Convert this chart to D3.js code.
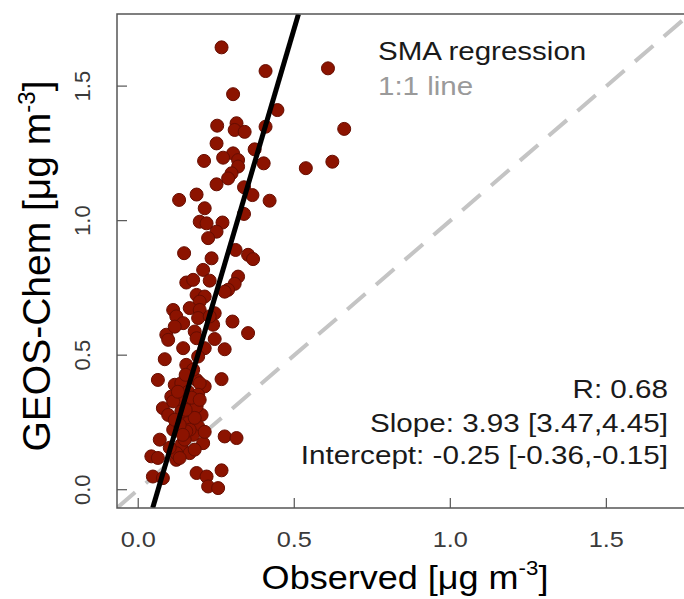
<!DOCTYPE html>
<html>
<head>
<meta charset="utf-8">
<script src="https://cdnjs.cloudflare.com/ajax/libs/d3/7.8.5/d3.min.js"></script>
<style>
  body { margin: 0; background: #fff; }
  text { font-family: "Liberation Sans", Arial, sans-serif; }
</style>
</head>
<body>
<svg class="chart"></svg>
<script>
// observed vs modelled concentrations (ug m-3)
const observed = [
  0.267, 0.408, 0.608, 0.304, 0.446, 0.660, 0.253, 0.315, 0.309, 0.341,
  0.408, 0.251, 0.373, 0.304, 0.272, 0.211, 0.320, 0.320, 0.402, 0.537,
  0.622, 0.299, 0.288, 0.251, 0.339, 0.366, 0.421, 0.131, 0.187, 0.213,
  0.339, 0.197, 0.219, 0.270, 0.251, 0.224, 0.147, 0.235, 0.312, 0.352,
  0.368, 0.208, 0.154, 0.176, 0.229, 0.320, 0.309, 0.288, 0.277, 0.187,
  0.213, 0.197, 0.112, 0.165, 0.197, 0.245, 0.122, 0.144, 0.192, 0.240,
  0.302, 0.352, 0.090, 0.096, 0.181, 0.187, 0.245, 0.144, 0.213, 0.277,
  0.192, 0.085, 0.063, 0.117, 0.138, 0.187, 0.213, 0.267, 0.106, 0.133,
  0.165, 0.079, 0.181, 0.096, 0.144, 0.203, 0.160, 0.112, 0.192, 0.176,
  0.069, 0.208, 0.277, 0.315, 0.138, 0.042, 0.063, 0.122, 0.165, 0.047,
  0.079, 0.187, 0.219, 0.267, 0.224, 0.256, 0.117, 0.229, 0.197, 0.112,
  0.138, 0.187, 0.165, 0.149, 0.122, 0.133, 0.154, 0.176, 0.160, 0.192,
  0.154, 0.133, 0.181, 0.152, 0.171, 0.127, 0.197, 0.152, 0.117, 0.213,
  0.101, 0.181, 0.143
];
const modelled = [
  1.644, 1.556, 1.566, 1.470, 1.411, 1.341, 1.353, 1.362, 1.337, 1.330,
  1.349, 1.287, 1.265, 1.250, 1.234, 1.222, 1.225, 1.201, 1.213, 1.195,
  1.219, 1.176, 1.157, 1.135, 1.124, 1.095, 1.074, 1.077, 1.097, 1.046,
  1.025, 0.996, 0.990, 0.993, 0.959, 0.935, 0.879, 0.860, 0.891, 0.873,
  0.857, 0.817, 0.770, 0.780, 0.777, 0.792, 0.765, 0.743, 0.736, 0.724,
  0.718, 0.699, 0.668, 0.675, 0.668, 0.656, 0.644, 0.619, 0.638, 0.613,
  0.625, 0.582, 0.576, 0.557, 0.588, 0.563, 0.560, 0.526, 0.526, 0.522,
  0.495, 0.485, 0.408, 0.390, 0.396, 0.408, 0.384, 0.411, 0.346, 0.334,
  0.322, 0.303, 0.303, 0.278, 0.272, 0.278, 0.248, 0.223, 0.235, 0.204,
  0.186, 0.173, 0.198, 0.192, 0.167, 0.124, 0.118, 0.111, 0.136, 0.049,
  0.043, 0.062, 0.049, 0.072, 0.012, 0.006, 0.606, 0.644, 0.396, 0.328,
  0.291, 0.309, 0.223, 0.186, 0.136, 0.118, 0.464, 0.446, 0.364, 0.353,
  0.217, 0.241, 0.267, 0.427, 0.342, 0.364, 0.334, 0.297, 0.260, 0.215,
  0.156, 0.149, 0.204
];
const xTicks = [0, 0.5, 1.0, 1.5];
const yTicks = [0, 0.5, 1.0, 1.5];
const smaSlope = 3.93;
const smaIntercept = -0.25;
const statLines = ['R: 0.68', 'Slope: 3.93 [3.47,4.45]', 'Intercept: -0.25 [-0.36,-0.15]'];
const legendLabels = ['SMA regression', '1:1 line'];

const width = 684;
const height = 599;
const svg = d3.select('.chart').attr('width', width).attr('height', height)
  .style('background-color', 'white');

const pLeft = 117, pTop = 14, pBottom = 508, pRight = 690;
const x = d3.scaleLinear().domain([-0.068, 1.768]).range([pLeft, pRight]);
const y = d3.scaleLinear().domain([-0.068, 1.768]).range([pBottom, pTop]);

// helper for (horizontally stretched) text
function label(px, py, str, size, anchor, fill, sx, rot) {
  let tr = `translate(${px},${py})`;
  if (rot) tr += ` rotate(${rot})`;
  tr += ` scale(${sx},1)`;
  return svg.append('text')
    .attr('transform', tr)
    .attr('font-size', size)
    .attr('text-anchor', anchor)
    .attr('fill', fill)
    .text(str);
}

const plot = svg.append('g');
plot.append('clipPath').attr('id', 'clip')
  .append('rect').attr('x', pLeft).attr('y', pTop)
  .attr('width', pRight - pLeft).attr('height', pBottom - pTop);

// 1:1 line
const lineG = plot.append('g').attr('clip-path', 'url(#clip)');
lineG.append('line')
  .attr('x1', x(-0.068)).attr('y1', y(-0.068))
  .attr('x2', x(1.768)).attr('y2', y(1.768))
  .attr('stroke', '#c4c4c4').attr('stroke-width', 4)
  .attr('stroke-dasharray', '24,14');

// points
lineG.selectAll('circle').data(observed).join('circle')
  .attr('cx', d => x(d))
  .attr('cy', (d, i) => y(modelled[i]))
  .attr('r', 6.5)
  .attr('fill', '#8c1300')
  .attr('stroke', '#660d00')
  .attr('stroke-width', 1);

// SMA regression line
const yLo = -0.068, yHi = 1.768;
lineG.append('line')
  .attr('x1', x((yLo - smaIntercept) / smaSlope)).attr('y1', y(yLo))
  .attr('x2', x((yHi - smaIntercept) / smaSlope)).attr('y2', y(yHi))
  .attr('stroke', 'black').attr('stroke-width', 5);

// frame
plot.append('path')
  .attr('d', `M${pRight},${pTop}H${pLeft}V${pBottom}H${pRight}`)
  .attr('fill', 'none').attr('stroke', '#555').attr('stroke-width', 1.5);

// ticks (inward)
plot.selectAll('.xt').data(xTicks).join('line')
  .attr('x1', d => x(d)).attr('x2', d => x(d))
  .attr('y1', pBottom).attr('y2', pBottom - 10)
  .attr('stroke', '#555').attr('stroke-width', 1.2);
plot.selectAll('.yt').data(yTicks).join('line')
  .attr('y1', d => y(d)).attr('y2', d => y(d))
  .attr('x1', pLeft).attr('x2', pLeft + 10)
  .attr('stroke', '#555').attr('stroke-width', 1.2);

xTicks.forEach(d => label(x(d), 547, d3.format('.1f')(d), 22, 'middle', '#3a3a3a', 1.15));
yTicks.forEach(d => label(90, y(d), d3.format('.1f')(d), 22, 'middle', '#3a3a3a', 1, -90));

// axis titles
const xt = label(405, 589, '', 34, 'middle', 'black', 1.06);
xt.append('tspan').text('Observed [μg m');
xt.append('tspan').attr('dy', -14).attr('font-size', 21).text('-3');
xt.append('tspan').attr('dy', 14).text(']');

const yt = label(50, 266, '', 39, 'middle', 'black', 1, -90);
yt.append('tspan').text('GEOS-Chem [μg m');
yt.append('tspan').attr('dy', -15).attr('font-size', 24).text('-3');
yt.append('tspan').attr('dy', 15).text(']');

// legend
label(378, 60, legendLabels[0], 26, 'start', '#1a1a1a', 1.135);
label(378, 95, legendLabels[1], 26, 'start', '#9a9a9a', 1.135);

// stats
const statY = [398, 432, 464];
statLines.forEach((s, i) => label(668, statY[i], s, 26, 'end', '#1a1a1a', 1.14));
</script>
</body>
</html>
